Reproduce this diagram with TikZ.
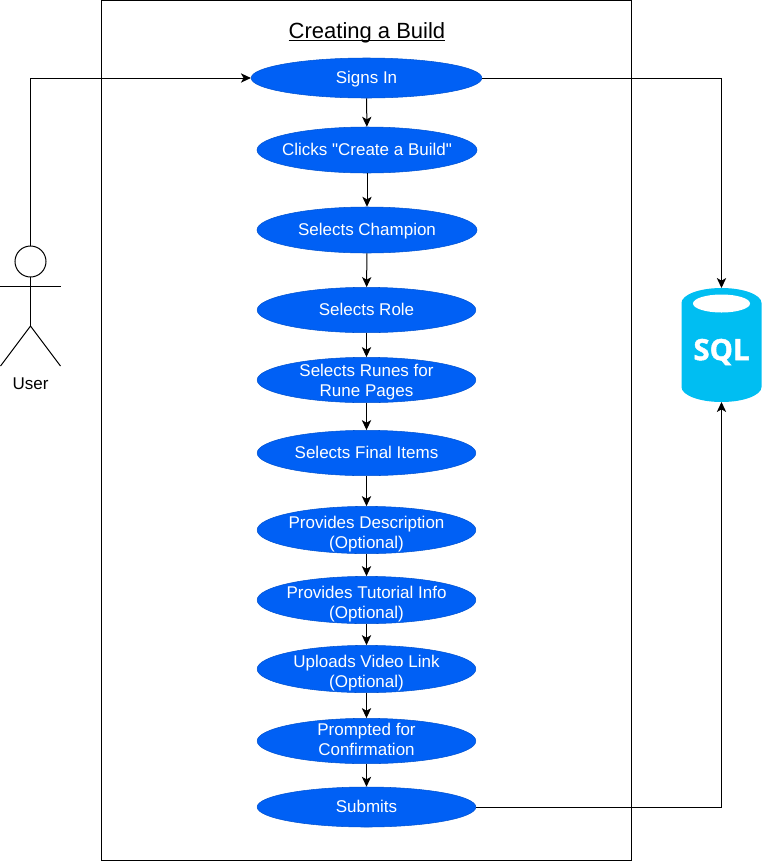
\documentclass[tikz,border=0pt]{standalone}
\usepackage{fontspec}
\setmainfont{Liberation Sans}
\newfontfamily\plainquote{Liberation Sans}
\newfontfamily\sqlfont[BoldFeatures={FakeBold=1.5}]{Open Sans}
\usetikzlibrary{arrows.meta,shapes,positioning,calc}
\definecolor{usecaseblue}{HTML}{0060F5}
\definecolor{sqlblue}{HTML}{00BEF2}
\tikzset{
	usecase/.style={ellipse, draw=usecaseblue!85!black, line width=0.4pt, fill=usecaseblue, text=white, inner xsep=-8pt, inner ysep=-4pt, align=center, font=\fontsize{12.75}{15}\selectfont},
	oneline/.style={usecase, text height=11pt, text depth=2.1pt},
	flow/.style={draw=black, line width=0.75pt, -{Stealth[length=7.5pt,width=7pt,inset=2pt]}},
	actorline/.style={draw=black, line width=0.75pt}
}
\begin{document}
\begin{tikzpicture}[x=0.75pt,y=-0.75pt]
	\useasboundingbox (0,0) rectangle (762,861);
	% System frame
	\node[draw=black, line width=0.75pt, minimum width=397.5pt, minimum height=645pt, inner sep=0pt] (frame) at (366.5,430) {};
	\node[anchor=base, font=\fontsize{16.5}{20}\selectfont] (title) at (367,38.7) {\underline{\smash{Creating a Build}}};
	
	% Use cases
	\node[oneline, minimum width=173pt, minimum height=30pt] (signs) at (366.5,78) {Signs In};
	\node[oneline, minimum width=165pt, minimum height=34.5pt] (clicks) at (367,150) {Clicks {\plainquote "}Create a Build{\plainquote "}};
	\node[oneline, minimum width=165pt, minimum height=34.5pt] (champion) at (367,230) {Selects Champion};
	\node[oneline, minimum width=164pt, minimum height=34pt] (role) at (366.5,310) {Selects Role};
	\node[usecase, minimum width=164pt, minimum height=34pt, text height=26.7pt] (runes) at (366.5,380) {Selects Runes for\\Rune Pages};
	\node[oneline, minimum width=164pt, minimum height=34pt] (items) at (366.5,453) {Selects Final Items};
	\node[usecase, minimum width=164pt, minimum height=34pt, text height=30.4pt] (description) at (366.5,530) {Provides Description\\(Optional)};
	\node[usecase, minimum width=164pt, minimum height=34pt, text height=30.4pt] (tutorial) at (366.5,600) {Provides Tutorial Info\\(Optional)};
	\node[usecase, minimum width=164pt, minimum height=34pt, text height=30.4pt] (video) at (366.5,669) {Uploads Video Link\\(Optional)};
	\node[usecase, minimum width=164pt, minimum height=34pt, text height=22.2pt] (confirm) at (366.5,741) {Prompted for\\Confirmation};
	\node[oneline, minimum width=164pt, minimum height=30pt] (submits) at (366.5,807) {Submits};
	
	% Flow between use cases
	\draw[flow] (signs) -- (clicks);
	\draw[flow] (clicks) -- (champion);
	\draw[flow] (champion) -- (role);
	\draw[flow] (role) -- (runes);
	\draw[flow] (runes) -- (items);
	\draw[flow] (items) -- (description);
	\draw[flow] (description) -- (tutorial);
	\draw[flow] (tutorial) -- (video);
	\draw[flow] (video) -- (confirm);
	\draw[flow] (confirm) -- (submits);
	
	% Actor
	\node[circle, draw=black, line width=0.75pt, fill=white, minimum size=23.25pt, inner sep=0pt] (head) at (30.5,261.5) {};
	\coordinate (neck) at (30.5,277);
	\coordinate (armL) at (0.5,286.5);
	\coordinate (armR) at (60.5,286.5);
	\coordinate (hip) at (30.5,326);
	\coordinate (legL) at (0.5,366);
	\coordinate (legR) at (60.5,366);
	\draw[actorline] (neck) -- (hip);
	\draw[actorline] (armL) -- (armR);
	\draw[actorline] (legL) -- (hip) -- (legR);
	\node[font=\fontsize{12.75}{15}\selectfont] (user) at (30.5,384) {User};
	\draw[flow] (head) |- (signs);
	
	% SQL database
	\fill[sqlblue] (681.5,303) arc[start angle=180, end angle=360, x radius=40, y radius=15] -- (761.5,387) arc[start angle=0, end angle=180, x radius=40, y radius=15] -- cycle;
	\node[ellipse, fill=white, minimum width=42.75pt, minimum height=13.5pt, inner sep=0pt] (sqltop) at (721.5,303.5) {};
	\node[text=white, font=\fontsize{22}{24}\sqlfont\bfseries\selectfont] (sqltext) at (721.5,352) {SQL};
	\coordinate (sqlin) at (721.5,288);
	\coordinate (sqlout) at (721.5,402);
	\draw[flow] (signs) -| (sqlin);
	\draw[flow] (submits) -| (sqlout);
\end{tikzpicture}
\end{document}
